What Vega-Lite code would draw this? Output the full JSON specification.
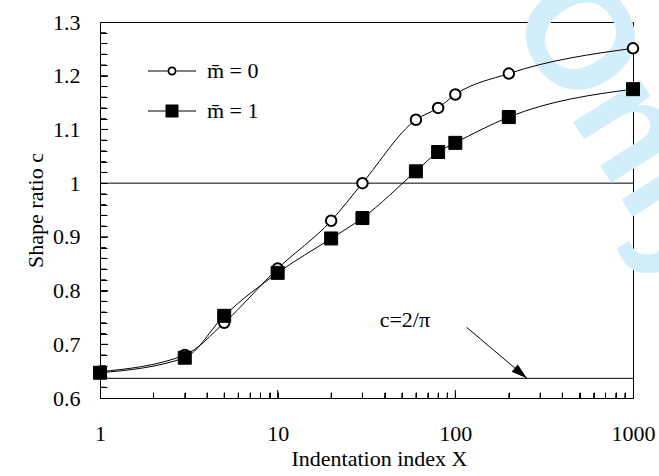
{
  "$schema": "https://vega.github.io/schema/vega-lite/v6.json",
  "width": 533,
  "height": 376,
  "autosize": "none",
  "padding": {"left": 100, "top": 22, "right": 26, "bottom": 78},
  "background": "white",
  "datasets": {
    "series": [
      {"X": 1, "c": 0.649, "m": "0"},
      {"X": 3, "c": 0.68, "m": "0"},
      {"X": 5, "c": 0.74, "m": "0"},
      {"X": 10, "c": 0.841, "m": "0"},
      {"X": 20, "c": 0.93, "m": "0"},
      {"X": 30, "c": 1.0, "m": "0"},
      {"X": 60, "c": 1.118, "m": "0"},
      {"X": 80, "c": 1.14, "m": "0"},
      {"X": 100, "c": 1.165, "m": "0"},
      {"X": 200, "c": 1.204, "m": "0"},
      {"X": 1000, "c": 1.251, "m": "0"},
      {"X": 1, "c": 0.647, "m": "1"},
      {"X": 3, "c": 0.675, "m": "1"},
      {"X": 5, "c": 0.753, "m": "1"},
      {"X": 10, "c": 0.833, "m": "1"},
      {"X": 20, "c": 0.897, "m": "1"},
      {"X": 30, "c": 0.935, "m": "1"},
      {"X": 60, "c": 1.022, "m": "1"},
      {"X": 80, "c": 1.058, "m": "1"},
      {"X": 100, "c": 1.075, "m": "1"},
      {"X": 200, "c": 1.123, "m": "1"},
      {"X": 1000, "c": 1.175, "m": "1"}
    ],
    "refs": [{"c": 1.0}, {"c": 0.6366}],
    "note": [{"X": 52, "c": 0.745, "label": "c=2/π"}],
    "arrow": [{"X": 115.8, "c": 0.7316, "X2": 253, "c2": 0.6366}],
    "wm": [{"X": 192, "c": 1.315, "label": "Only"}],
    "xtMinor": [
      {"X": 2, "c": 0.6}, {"X": 3, "c": 0.6}, {"X": 4, "c": 0.6}, {"X": 5, "c": 0.6}, {"X": 6, "c": 0.6}, {"X": 7, "c": 0.6}, {"X": 8, "c": 0.6}, {"X": 9, "c": 0.6},
      {"X": 20, "c": 0.6}, {"X": 30, "c": 0.6}, {"X": 40, "c": 0.6}, {"X": 50, "c": 0.6}, {"X": 60, "c": 0.6}, {"X": 70, "c": 0.6}, {"X": 80, "c": 0.6}, {"X": 90, "c": 0.6},
      {"X": 200, "c": 0.6}, {"X": 300, "c": 0.6}, {"X": 400, "c": 0.6}, {"X": 500, "c": 0.6}, {"X": 600, "c": 0.6}, {"X": 700, "c": 0.6}, {"X": 800, "c": 0.6}, {"X": 900, "c": 0.6}
    ],
    "xtMajor": [{"X": 10, "c": 0.6}, {"X": 100, "c": 0.6}],
    "ytMinor": [
      {"X": 1, "c": 0.62}, {"X": 1, "c": 0.64}, {"X": 1, "c": 0.66}, {"X": 1, "c": 0.68},
      {"X": 1, "c": 0.72}, {"X": 1, "c": 0.74}, {"X": 1, "c": 0.76}, {"X": 1, "c": 0.78},
      {"X": 1, "c": 0.82}, {"X": 1, "c": 0.84}, {"X": 1, "c": 0.86}, {"X": 1, "c": 0.88},
      {"X": 1, "c": 0.92}, {"X": 1, "c": 0.94}, {"X": 1, "c": 0.96}, {"X": 1, "c": 0.98},
      {"X": 1, "c": 1.02}, {"X": 1, "c": 1.04}, {"X": 1, "c": 1.06}, {"X": 1, "c": 1.08},
      {"X": 1, "c": 1.12}, {"X": 1, "c": 1.14}, {"X": 1, "c": 1.16}, {"X": 1, "c": 1.18},
      {"X": 1, "c": 1.22}, {"X": 1, "c": 1.24}, {"X": 1, "c": 1.26}, {"X": 1, "c": 1.28}
    ],
    "ytMajor": [{"X": 1, "c": 0.7}, {"X": 1, "c": 0.8}, {"X": 1, "c": 0.9}, {"X": 1, "c": 1.1}, {"X": 1, "c": 1.2}]
  },
  "layer": [
    {
      "data": {"name": "refs"},
      "mark": {"type": "rule", "color": "black", "strokeWidth": 1},
      "encoding": {
        "y": {
          "field": "c", "type": "quantitative",
          "scale": {"domain": [0.6, 1.3]},
          "axis": {
            "title": "Shape ratio c",
            "values": [0.6, 0.62, 0.64, 0.66, 0.68, 0.7, 0.72, 0.74, 0.76, 0.78, 0.8, 0.82, 0.84, 0.86, 0.88, 0.9, 0.92, 0.94, 0.96, 0.98, 1.0, 1.02, 1.04, 1.06, 1.08, 1.1, 1.12, 1.14, 1.16, 1.18, 1.2, 1.22, 1.24, 1.26, 1.28, 1.3],
            "labelExpr": "abs(datum.value * 10 - round(datum.value * 10)) < 0.001 ? format(datum.value, '~g') : ''",
            "ticks": true,
            "zindex": 1,
            "offset": -7,
            "tickSize": 7,
            "domain": false,
            "labelPadding": 20,
            "titlePadding": 5
          }
        }
      }
    },
    {
      "encoding": {
        "x": {
          "field": "X", "type": "quantitative",
          "scale": {"type": "log", "domain": [1, 1000]},
          "axis": {
            "title": "Indentation index X",
            "values": [1, 2, 3, 4, 5, 6, 7, 8, 9, 10, 20, 30, 40, 50, 60, 70, 80, 90, 100, 200, 300, 400, 500, 600, 700, 800, 900, 1000],
            "labelExpr": "(datum.value == 1 || datum.value == 10 || datum.value == 100 || datum.value == 1000) ? format(datum.value, 'd') : ''",
            "ticks": true,
            "zindex": 1,
            "offset": -6,
            "tickSize": 6,
            "domain": false,
            "labelPadding": 25,
            "titlePadding": 4,
            "titleX": 279
          }
        },
        "y": {
          "field": "c", "type": "quantitative",
          "scale": {"domain": [0.6, 1.3]},
          "axis": {
            "title": "Shape ratio c",
            "values": [0.6, 0.62, 0.64, 0.66, 0.68, 0.7, 0.72, 0.74, 0.76, 0.78, 0.8, 0.82, 0.84, 0.86, 0.88, 0.9, 0.92, 0.94, 0.96, 0.98, 1.0, 1.02, 1.04, 1.06, 1.08, 1.1, 1.12, 1.14, 1.16, 1.18, 1.2, 1.22, 1.24, 1.26, 1.28, 1.3],
            "labelExpr": "abs(datum.value * 10 - round(datum.value * 10)) < 0.001 ? format(datum.value, '~g') : ''",
            "ticks": true,
            "zindex": 1,
            "offset": -7,
            "tickSize": 7,
            "domain": false,
            "labelPadding": 20,
            "titlePadding": 5
          }
        }
      },
      "layer": [
        {
          "data": {"name": "wm"},
          "mark": {"type": "text", "font": "Liberation Sans", "fontWeight": "bold", "fontSize": 150, "color": "#d3eefb", "angle": 58, "align": "left", "baseline": "alphabetic", "clip": false},
          "encoding": {
            "text": {"field": "label"}
          }
        },
        {
          "data": {"name": "xtMinor"},
          "mark": {"type": "tick", "orient": "vertical", "size": 5, "thickness": 1, "color": "black", "opacity": 1, "yOffset": -2.5, "clip": false}
        },
        {
          "data": {"name": "xtMajor"},
          "mark": {"type": "tick", "orient": "vertical", "size": 8, "thickness": 1, "color": "black", "opacity": 1, "yOffset": -4, "clip": false}
        },
        {
          "data": {"name": "ytMinor"},
          "mark": {"type": "tick", "orient": "horizontal", "size": 6, "thickness": 1, "color": "black", "opacity": 1, "xOffset": 3, "clip": false}
        },
        {
          "data": {"name": "ytMajor"},
          "mark": {"type": "tick", "orient": "horizontal", "size": 8, "thickness": 1, "color": "black", "opacity": 1, "xOffset": 4, "clip": false}
        },
        {
          "data": {"name": "series"},
          "mark": {"type": "line", "interpolate": "monotone", "color": "black", "strokeWidth": 1, "clip": false},
          "encoding": {
            "detail": {"field": "m"}
          }
        },
        {
          "data": {"name": "series"},
          "transform": [{"filter": "datum.m === '0'"}],
          "mark": {"type": "point", "shape": "circle", "size": 110, "stroke": "black", "strokeWidth": 2, "fill": "white", "opacity": 1, "filled": false, "clip": false}
        },
        {
          "data": {"name": "series"},
          "transform": [{"filter": "datum.m === '1'"}],
          "mark": {"type": "point", "shape": "square", "size": 169, "stroke": "black", "strokeWidth": 1, "fill": "black", "opacity": 1, "filled": true, "clip": false}
        },
        {
          "data": {"name": "series"},
          "transform": [{"filter": "false"}],
          "mark": {"type": "point", "filled": true, "color": "black", "opacity": 1},
          "encoding": {
            "shape": {
              "field": "m", "type": "nominal",
              "scale": {"domain": ["0", "1"], "range": [
                "M-1,-0.021H-0.18V0.021H-1ZM0.18,-0.021H1V0.021H0.18ZM0.1875,0A0.1875,0.1875 0 1,0 -0.1875,0A0.1875,0.1875 0 1,0 0.1875,0ZM0.117,0A0.117,0.117 0 1,1 -0.117,0A0.117,0.117 0 1,1 0.117,0Z",
                "M-1,-0.021H1V0.021H-1ZM-0.27,-0.27H0.27V0.27H-0.27Z"
              ]},
              "legend": {
                "orient": "none", "legendX": 47, "legendY": 24, "padding": 0, "title": null,
                "symbolSize": 2304, "symbolFillColor": "black", "symbolOpacity": 1,
                "labelFont": "Liberation Serif", "labelFontSize": 22, "labelColor": "black", "labelOffset": 10, "rowPadding": 4,
                "labelExpr": "'m\u0304 = ' + datum.label"
              }
            }
          }
        },
        {
          "data": {"name": "note"},
          "mark": {"type": "text", "font": "Liberation Serif", "fontSize": 22, "color": "black", "align": "center", "baseline": "middle"},
          "encoding": {
            "text": {"field": "label"}
          }
        },
        {
          "data": {"name": "arrow"},
          "mark": {"type": "rule", "color": "black", "strokeWidth": 1},
          "encoding": {
            "x2": {"field": "X2"},
            "y2": {"field": "c2"}
          }
        },
        {
          "data": {"name": "arrow"},
          "mark": {"type": "point", "shape": "M0,0L0.6,2L-0.6,2Z", "size": 256, "filled": true, "color": "black", "opacity": 1, "angle": 130},
          "encoding": {
            "x": {"field": "X2", "type": "quantitative"},
            "y": {"field": "c2", "type": "quantitative"}
          }
        }
      ]
    }
  ],
  "config": {
    "view": {"stroke": "black", "strokeWidth": 1},
    "axis": {
      "grid": false,
      "ticks": true,
      "tickOpacity": 1,
      "domainColor": "black",
      "tickColor": "black",
      "tickWidth": 1,
      "labelColor": "black",
      "titleColor": "black",
      "labelFont": "Liberation Serif",
      "titleFont": "Liberation Serif",
      "labelFontSize": 22,
      "titleFontSize": 22,
      "titleFontWeight": "normal",
      "labelOverlap": false,
      "labelBound": false,
      "labelFlush": false
    }
  }
}
